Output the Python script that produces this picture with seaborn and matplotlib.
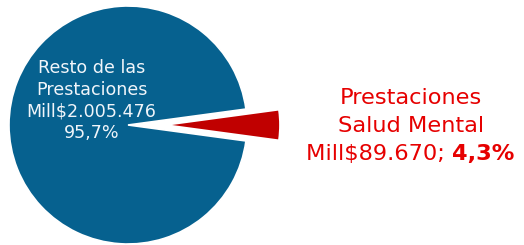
import matplotlib
matplotlib.use("Agg")
import matplotlib.pyplot as plt
import seaborn as sns

sns.set_theme(style="white")
plt.rcParams['font.family'] = ['DejaVu Sans']

# ---- data ----
categories = ["Resto de las\nPrestaciones", "Prestaciones\nSalud Mental"]
values_mill = [2005476, 89670]
slice_colors = ["#06618F", "#C00000"]
label_colors = ["#F0F5FA", "#E60000"]

total = sum(values_mill)
fracs = [v / total for v in values_mill]


def fmt_num(v):
    return f"{v:,}".replace(",", ".")


def fmt_pct(f):
    return f"{f * 100:.1f}".replace(".", ",") + "%"


fig = plt.figure(figsize=(5.24, 2.45), dpi=100)
ax = fig.add_axes([0, 0, 1, 1])

R_PX = 119.0
cx_px, cy_px = 128.0, 125.0  # from top-left
W, H = 524.0, 245.0

start = 360 * fracs[1] / 2
wedges, _ = ax.pie(values_mill, colors=slice_colors, startangle=start,
                   counterclock=True, explode=[0, 0.37],
                   wedgeprops=dict(edgecolor="white", linewidth=1.2))
wedges[1].set_radius(0.9)
wedges[1].set_edgecolor("none")

ax.set_xlim(-cx_px / R_PX, (W - cx_px) / R_PX)
ax.set_ylim(-(H - cy_px) / R_PX, cy_px / R_PX)
ax.set_aspect("auto")
ax.axis("off")


def px(x, y):
    return (x - cx_px) / R_PX, (cy_px - y) / R_PX


# inner label (blue slice), one line at a time
inner_lines = categories[0].split("\n") + [
    f"Mill${fmt_num(values_mill[0])}", fmt_pct(fracs[0])]
for i, line in enumerate(inner_lines):
    x, y = px(91.5, 73 + 21.7 * i)
    ax.text(x, y, line, ha="center", va="baseline", color=label_colors[0],
            fontsize=12.6)

# outer label (red slice)
outer_lines = categories[1].split("\n")
for i, line in enumerate(outer_lines):
    x, y = px(411, 104 + 28 * i)
    ax.text(x, y, line, ha="center", va="baseline", color=label_colors[1],
            fontsize=16.2)

fig.canvas.draw()
renderer = fig.canvas.get_renderer()
part_a = f"Mill${fmt_num(values_mill[1])}; "
part_b = fmt_pct(fracs[1])
ta = ax.text(0, 0, part_a, ha="left", va="baseline", color=label_colors[1],
             fontsize=16.2)
tb = ax.text(0, 0, part_b, ha="left", va="baseline", color=label_colors[1],
             fontsize=16.2, fontweight="bold")
wa = ta.get_window_extent(renderer).width
wb = tb.get_window_extent(renderer).width
line_cx, line_base = 410, 160
left_px = line_cx - (wa + wb) / 2
xa, ya = px(left_px, line_base)
xb, _ = px(left_px + wa, line_base)
ta.set_position((xa, ya))
tb.set_position((xb, ya))

fig.savefig("out.png", dpi=100, facecolor="white")
